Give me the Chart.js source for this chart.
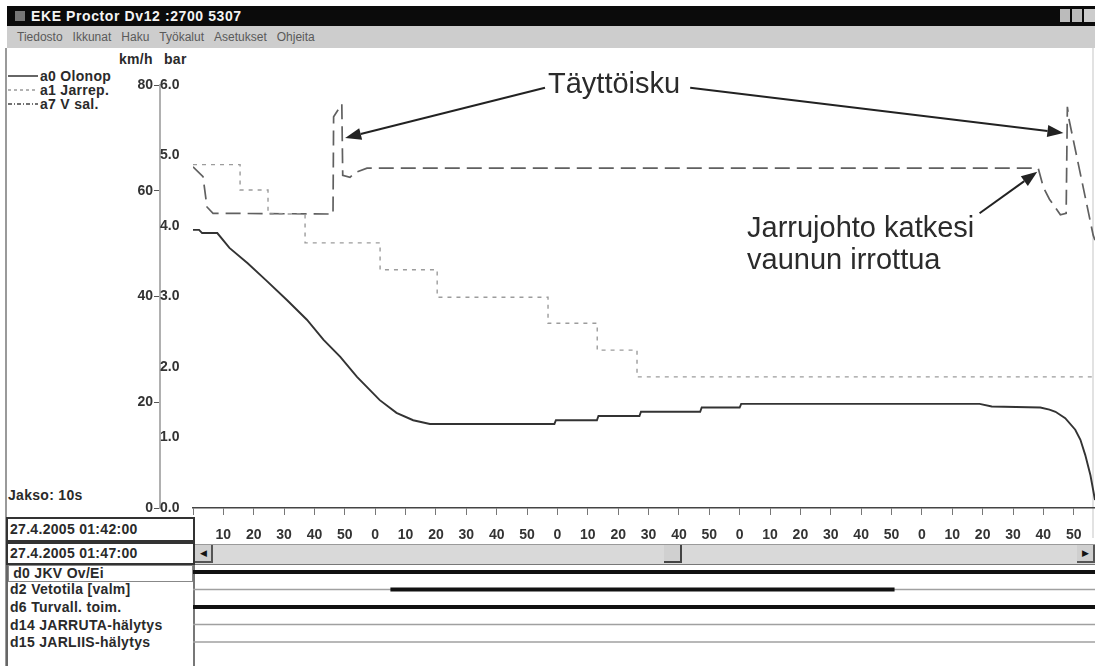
<!DOCTYPE html>
<html>
<head>
<meta charset="utf-8">
<script src="https://cdn.jsdelivr.net/npm/chart.js@4.4.1/dist/chart.umd.min.js"></script>
<style>
body{margin:0;width:1095px;height:666px;overflow:hidden;background:#fff;position:relative;font-family:"Liberation Sans",Arial,sans-serif}
.abs{position:absolute}
#titlebar{left:7px;top:6px;width:1088px;height:20px;background:#0b0b0b;color:#f4f4f4;font:bold 14px "Liberation Sans",Arial;letter-spacing:0.6px;line-height:20px}
#menubar{left:7px;top:26px;width:1088px;height:22px;background:#cdcdcd;color:#5a5a5a;font:12px "Liberation Sans",Arial;line-height:22px;white-space:nowrap}
#menubar span{margin-left:10px}
.ui{font:bold 14px "Liberation Sans",Arial;color:#2a2a2a;white-space:nowrap;letter-spacing:0.3px}
.note{font:29px "Liberation Sans",Arial;color:#2b2b2b;white-space:nowrap;line-height:32px}
canvas{position:absolute}
</style>
</head>
<body>

<div id="titlebar" class="abs">
  <span style="position:absolute;left:8px;top:5px;width:10px;height:10px;background:#777"></span>
  <span style="position:absolute;left:24px">EKE Proctor Dv12 :2700 5307</span>
  <span style="position:absolute;left:1053px;top:3px;width:10px;height:13px;background:#bbb"></span>
  <span style="position:absolute;left:1065px;top:3px;width:10px;height:13px;background:#bbb"></span>
  <span style="position:absolute;left:1077px;top:3px;width:11px;height:13px;background:#ccc"></span>
</div>
<div id="menubar" class="abs"><span>Tiedosto</span><span>Ikkunat</span><span>Haku</span><span>Työkalut</span><span>Asetukset</span><span>Ohjeita</span></div>

<!-- vasen paneeli -->
<div class="abs" style="left:5px;top:48px;width:2px;height:618px;background:#9a9a9a"></div>
<div class="abs" style="left:1092px;top:48px;width:2px;height:490px;background:#e2e2e2"></div>

<div class="abs ui" style="left:119px;top:51px">km/h</div>
<div class="abs ui" style="left:164px;top:51px">bar</div>

<div class="abs ui" style="left:8px;top:68px">
  <div style="height:14px"><svg width="32" height="14" style="vertical-align:top"><line x1="0" y1="8" x2="30" y2="8" stroke="#333" stroke-width="1.5"/></svg>a0 Olonop</div>
  <div style="height:14px"><svg width="32" height="14" style="vertical-align:top"><line x1="0" y1="8" x2="30" y2="8" stroke="#999" stroke-width="1.5" stroke-dasharray="3,3"/></svg>a1 Jarrep.</div>
  <div style="height:14px"><svg width="32" height="14" style="vertical-align:top"><line x1="0" y1="8" x2="30" y2="8" stroke="#444" stroke-width="1.5" stroke-dasharray="4,2,1,2"/></svg>a7 V sal.</div>
</div>

<div class="abs ui" style="left:8px;top:487px">Jakso: 10s</div>

<div class="abs ui" style="left:6px;top:517px;width:183px;height:21px;border:2px solid #333;line-height:21px;padding-left:2px">27.4.2005 01:42:00</div>
<div class="abs ui" style="left:6px;top:542px;width:183px;height:19px;border:2px solid #333;line-height:19px;padding-left:2px">27.4.2005 01:47:00</div>

<div class="abs" style="left:6px;top:565px;width:185px;height:101px;border-left:2px solid #666;border-right:2px solid #777"></div>
<div class="abs ui" style="left:8px;top:565px;width:183px;height:15px;border:1px solid #888;line-height:15px;background:#fff">&nbsp;d0 JKV Ov/Ei</div>
<div class="abs ui" style="left:10px;top:582px;line-height:15px">d2 Vetotila [valm]</div>
<div class="abs ui" style="left:10px;top:600px;line-height:15px">d6 Turvall. toim.</div>
<div class="abs ui" style="left:10px;top:618px;line-height:15px">d14 JARRUTA-hälytys</div>
<div class="abs ui" style="left:10px;top:635px;line-height:15px">d15 JARLIIS-hälytys</div>

<!-- vierityspalkki -->
<div class="abs" style="left:195px;top:544px;width:900px;height:19px;background:#d9d9d9;border-top:1px solid #9a9a9a;border-bottom:1px solid #777"></div>
<div class="abs" style="left:195px;top:545px;width:16px;height:16px;background:#cfcfcf;border-right:2px solid #555;border-bottom:2px solid #555;font:9px Arial;color:#111;text-align:center;line-height:16px">&#9664;</div>
<div class="abs" style="left:664px;top:545px;width:16px;height:16px;background:#d0d0d0;border-right:2px solid #444;border-bottom:2px solid #444"></div>
<div class="abs" style="left:1077px;top:545px;width:16px;height:16px;background:#cfcfcf;border-right:2px solid #555;border-bottom:2px solid #555;font:9px Arial;color:#111;text-align:center;line-height:16px">&#9654;</div>

<canvas id="main" width="1095" height="500" style="left:0;top:45px"></canvas>
<canvas id="dig" width="1095" height="101" style="left:0;top:565px"></canvas>

<div class="abs note" style="left:548px;top:67px">Täyttöisku</div>
<div class="abs note" style="left:747px;top:211px">Jarrujohto katkesi<br>vaunun irrottua</div>

<script>
// a0 Olonop (km/h)
var a0T   = [0, 2, 3, 8, 12, 18, 24, 31, 37.5, 43, 48.5, 54, 61.5, 67, 72.5, 78, 119, 119.5, 133, 133.5, 147, 147.5, 167, 167.5, 180, 180.5, 259, 263, 279, 282, 284, 287.2, 290.5, 292.2, 293.8, 295.5, 297];
var a0Kmh = [52.6, 52.6, 52.0, 52.0, 49.2, 46.3, 43.1, 39.3, 35.6, 31.8, 28.6, 24.8, 20.4, 18.0, 16.6, 15.9, 15.9, 16.6, 16.6, 17.4, 17.4, 18.2, 18.2, 19.0, 19.0, 19.7, 19.7, 19.2, 19.0, 18.6, 18.2, 17.0, 14.8, 12.9, 10.0, 6.2, 1.5];

// a1 Jarrep. (bar), portaittain
var a1T   = [0, 15.5, 24.7, 36.9, 61.6, 80.4, 116.9, 133.1, 146.2, 297];
var a1Bar = [4.87, 4.51, 4.17, 3.76, 3.38, 2.99, 2.62, 2.24, 1.86, 1.86];

// a7 V sal. (bar)
var a7T   = [0, 3.3, 4.6, 6.6, 46.1, 46.3, 49.0, 49.3, 51.7, 53.5, 57.3, 278.3, 280, 282, 285.6, 287.5, 287.9, 288.5, 296.4, 297];
var a7Bar = [4.84, 4.70, 4.27, 4.18, 4.17, 5.55, 5.73, 4.72, 4.69, 4.76, 4.82, 4.82, 4.55, 4.38, 4.16, 4.18, 5.69, 5.50, 3.87, 3.80];

// akselit
var kmhTicks = [0, 20, 40, 60, 80];
var barTicks = [0, 1, 2, 3, 4, 5, 6];
var secNames = ['0', '10', '20', '30', '40', '50'];
var tMax = 297;

// digitaaliset kanavat
var digNames  = ['d0 JKV Ov/Ei', 'd2 Vetotila [valm]', 'd6 Turvall. toim.', 'd14 JARRUTA-hälytys', 'd15 JARLIIS-hälytys'];
var digOnFrom = [0, 65, 0, null, null];
var digOnTo   = [297, 231, 297, null, null];

// nuolet (alku -> kärki), arvot aika / bar
var arrowFrom = [[115.9, 5.96], [163.7, 5.96], [259.0, 4.18]];
var arrowTo   = [[50.1, 5.25], [286.6, 5.32], [278.0, 4.77]];

function pts(t, v) {
    var out = [];
    for (var i = 0; i < t.length; i++) out.push({x: t[i], y: v[i]});
    return out;
}

var uiFont = {family: '"Liberation Sans", Arial', size: 14, weight: 'bold'};

var arrowPlugin = {
    id: 'nuolet',
    afterDatasetsDraw: function(chart) {
        var ctx = chart.ctx;
        var xs = chart.scales.x, ys = chart.scales.bar;
        ctx.save();
        ctx.strokeStyle = '#222';
        ctx.fillStyle = '#222';
        ctx.lineWidth = 2;
        for (var i = 0; i < arrowFrom.length; i++) {
            var x1 = xs.getPixelForValue(arrowFrom[i][0]), y1 = ys.getPixelForValue(arrowFrom[i][1]);
            var x2 = xs.getPixelForValue(arrowTo[i][0]), y2 = ys.getPixelForValue(arrowTo[i][1]);
            var a = Math.atan2(y2 - y1, x2 - x1);
            var hl = 16, hw = 6;
            var bx = x2 - hl * Math.cos(a), by = y2 - hl * Math.sin(a);
            ctx.beginPath();
            ctx.moveTo(x1, y1);
            ctx.lineTo(bx, by);
            ctx.stroke();
            ctx.beginPath();
            ctx.moveTo(x2, y2);
            ctx.lineTo(bx + hw * Math.sin(a), by - hw * Math.cos(a));
            ctx.lineTo(bx - hw * Math.sin(a), by + hw * Math.cos(a));
            ctx.closePath();
            ctx.fill();
        }
        ctx.restore();
    }
};

new Chart(document.getElementById('main').getContext('2d'), {
    type: 'line',
    data: {
        datasets: [
            {label: 'a0 Olonop', data: pts(a0T, a0Kmh), yAxisID: 'kmh', borderColor: '#333', borderWidth: 1.9, pointRadius: 0, tension: 0},
            {label: 'a1 Jarrep.', data: pts(a1T, a1Bar), yAxisID: 'bar', stepped: true, borderColor: '#9c9c9c', borderWidth: 1.4, borderDash: [4, 5], pointRadius: 0},
            {label: 'a7 V sal.', data: pts(a7T, a7Bar), yAxisID: 'bar', borderColor: '#606060', borderWidth: 1.7, borderDash: [15, 7], pointRadius: 0}
        ]
    },
    options: {
        responsive: false,
        animation: false,
        layout: {padding: {left: 100, top: 40, right: 0, bottom: 0}},
        plugins: {legend: {display: false}, tooltip: {enabled: false}},
        scales: {
            x: {
                type: 'linear', min: 0, max: tMax,
                afterFit: function(s) { s.height = 37; },
                border: {color: '#444', width: 1.5},
                grid: {drawOnChartArea: false, tickLength: 7, color: '#777'},
                ticks: {
                    stepSize: 10, includeBounds: false, autoSkip: false, maxRotation: 0, padding: 12,
                    color: '#333', font: uiFont,
                    callback: function(v) { return v === 0 ? '' : secNames[Math.round(v / 10) % 6]; }
                }
            },
            kmh: {
                position: 'left', weight: 2, min: 0, max: 80,
                afterFit: function(s) { s.width = 60; },
                afterBuildTicks: function(s) { s.ticks = kmhTicks.map(function(v) { return {value: v}; }); },
                border: {color: '#b0b0b0', width: 2},
                grid: {drawOnChartArea: false, tickLength: 6, color: '#555'},
                ticks: {padding: 1, color: '#333', font: uiFont, callback: function(v) { return String(v); }}
            },
            bar: {
                position: 'left', weight: 1, min: 0, max: 6,
                afterFit: function(s) { s.width = 33; },
                afterBuildTicks: function(s) { s.ticks = barTicks.map(function(v) { return {value: v}; }); },
                border: {display: false},
                grid: {display: false},
                ticks: {crossAlign: 'far', color: '#333', font: uiFont, callback: function(v) { return v.toFixed(1); }}
            }
        }
    },
    plugins: [arrowPlugin]
});

// digitaalikanavat
var digSets = [];
for (var i = 0; i < digNames.length; i++) {
    if (digOnFrom[i] !== null) {
        digSets.push({label: digNames[i] + ' on', data: [{x: digOnFrom[i], y: i}, {x: digOnTo[i], y: i}],
            borderColor: '#111', borderWidth: 4, pointRadius: 0, order: 0, borderCapStyle: 'butt'});
    }
    digSets.push({label: digNames[i], data: [{x: 0, y: i}, {x: tMax, y: i}],
        borderColor: '#a0a0a0', borderWidth: 1.6, pointRadius: 0, order: 1});
}

new Chart(document.getElementById('dig').getContext('2d'), {
    type: 'line',
    data: {datasets: digSets},
    options: {
        responsive: false,
        animation: false,
        layout: {padding: {left: 193, right: 0, top: 0, bottom: 13.5}},
        plugins: {legend: {display: false}, tooltip: {enabled: false}},
        scales: {
            x: {type: 'linear', min: 0, max: tMax, display: false},
            y: {min: -0.4, max: 4.6, reverse: true, display: false}
        }
    }
});
</script>
</body>
</html>
